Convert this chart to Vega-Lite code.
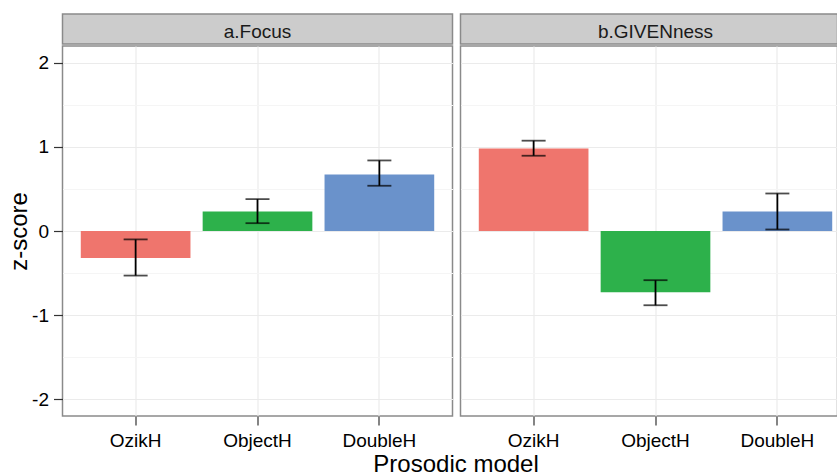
{
  "$schema": "https://vega.github.io/schema/vega-lite/v6.json",
  "background": "white",
  "padding": {"left": 6.5, "top": 13, "right": 0, "bottom": 0},
  "config": {
    "font": "Liberation Sans",
    "axis": {"labelFont": "Liberation Sans", "titleFont": "Liberation Sans"}
  },
  "title": {"text": "Prosodic model", "orient": "bottom", "anchor": "middle", "fontSize": 24, "fontWeight": "normal", "color": "#000000", "font": "Liberation Sans", "offset": 2, "dx": 27},
  "datasets": {
    "bars": [
      {"panel": "a.Focus", "model": "OzikH", "z": -0.32, "lo": -0.53, "hi": -0.10},
      {"panel": "a.Focus", "model": "ObjectH", "z": 0.232, "lo": 0.093, "hi": 0.379},
      {"panel": "a.Focus", "model": "DoubleH", "z": 0.673, "lo": 0.538, "hi": 0.839},
      {"panel": "b.GIVENness", "model": "OzikH", "z": 0.982, "lo": 0.895, "hi": 1.074},
      {"panel": "b.GIVENness", "model": "ObjectH", "z": -0.728, "lo": -0.883, "hi": -0.585},
      {"panel": "b.GIVENness", "model": "DoubleH", "z": 0.232, "lo": 0.018, "hi": 0.446}
    ],
    "strips": [{"panel": "a.Focus"}, {"panel": "b.GIVENness"}]
  },
  "spacing": 6,
  "hconcat": [
    {
      "spacing": 0,
      "vconcat": [
        {
          "width": 390,
          "height": 30,
          "view": {"fill": "#CCCCCC", "stroke": "#8A8A8A", "strokeWidth": 1.5},
          "data": {"name": "strips"},
          "transform": [{"filter": "datum.panel === 'a.Focus'"}],
          "mark": {"type": "text", "fontSize": 19, "color": "#1A1A1A", "baseline": "middle", "dy": 3},
          "encoding": {
            "text": {"field": "panel"},
            "x": {"field": "panel", "type": "nominal", "scale": {"type": "point", "range": [0, 390]}, "axis": null}
          }
        },
        {
          "width": 390,
          "height": 370,
          "view": {"fill": "white", "stroke": "#8A8A8A", "strokeWidth": 1.5},
          "data": {"name": "bars"},
          "transform": [{"filter": "datum.panel === 'a.Focus'"}],
          "encoding": {
            "x": {
              "field": "model", "type": "nominal",
              "sort": ["OzikH", "ObjectH", "DoubleH"],
              "scale": {"type": "band", "paddingInner": 0.1, "paddingOuter": 0.15, "range": [0, 390]},
              "axis": {
                "labelAngle": 0, "labelFontSize": 19, "labelColor": "#000000", "labelPadding": 6,
                "domain": false, "tickSize": 9, "tickColor": "#333333", "tickWidth": 1.2,
                "grid": true, "gridColor": "#EBEBEB", "gridWidth": 1.2,
                "title": null
              }
            }
          },
          "layer": [
            {
              "mark": {"type": "bar"},
              "encoding": {
                "y": {
                  "field": "z", "type": "quantitative",
                  "scale": {"domain": [-2.2, 2.2], "nice": false, "zero": false},
                  "axis": {
                    "values": [-2, -1, 0, 1, 2], "labelFontSize": 19, "labelColor": "#000000", "labelPadding": 5,
                    "labelExpr": "datum.value < 0 ? '-' + abs(datum.value) : '' + datum.value",
                    "domain": false, "tickSize": 9, "tickColor": "#333333", "tickWidth": 1.2,
                    "grid": true, "gridColor": "#EBEBEB", "gridWidth": 1.2,
                    "title": "z-score", "titleFontSize": 24, "titleFontWeight": "normal", "titleColor": "#000000", "titlePadding": 0
                  }
                },
                "color": {
                  "field": "model", "type": "nominal",
                  "scale": {"domain": ["OzikH", "ObjectH", "DoubleH"], "range": ["#EF756D", "#2DB14B", "#6A92CB"]},
                  "legend": null
                }
              }
            },
            {
              "mark": {"type": "rule", "color": "#000000", "strokeWidth": 1.8},
              "encoding": {
                "y": {
                  "field": "lo", "type": "quantitative",
                  "axis": {"orient": "left", "values": [-1.5, -0.5, 0.5, 1.5], "labels": false, "ticks": false, "domain": false, "title": null, "grid": true, "gridColor": "#F5F5F5", "gridWidth": 1.2}
                },
                "y2": {"field": "hi"}
              }
            },
            {
              "mark": {"type": "tick", "color": "#000000", "size": 24, "thickness": 1.8},
              "encoding": {"y": {"field": "lo", "type": "quantitative", "axis": null}}
            },
            {
              "mark": {"type": "tick", "color": "#000000", "size": 24, "thickness": 1.8},
              "encoding": {"y": {"field": "hi", "type": "quantitative", "axis": null}}
            }
          ],
          "resolve": {"axis": {"y": "independent"}}
        }
      ]
    },
    {
      "spacing": 0,
      "vconcat": [
        {
          "width": 377,
          "height": 30,
          "view": {"fill": "#CCCCCC", "stroke": "#8A8A8A", "strokeWidth": 1.5},
          "data": {"name": "strips"},
          "transform": [{"filter": "datum.panel === 'b.GIVENness'"}],
          "mark": {"type": "text", "fontSize": 19, "color": "#1A1A1A", "baseline": "middle", "dy": 3},
          "encoding": {
            "text": {"field": "panel"},
            "x": {"field": "panel", "type": "nominal", "scale": {"type": "point", "range": [0, 390]}, "axis": null}
          }
        },
        {
          "width": 377,
          "height": 370,
          "view": {"fill": "white", "stroke": "#8A8A8A", "strokeWidth": 1.5},
          "data": {"name": "bars"},
          "transform": [{"filter": "datum.panel === 'b.GIVENness'"}],
          "encoding": {
            "x": {
              "field": "model", "type": "nominal",
              "sort": ["OzikH", "ObjectH", "DoubleH"],
              "scale": {"type": "band", "paddingInner": 0.1, "paddingOuter": 0.15, "range": [0, 390]},
              "axis": {
                "labelAngle": 0, "labelFontSize": 19, "labelColor": "#000000", "labelPadding": 6,
                "domain": false, "tickSize": 9, "tickColor": "#333333", "tickWidth": 1.2,
                "grid": true, "gridColor": "#EBEBEB", "gridWidth": 1.2,
                "title": null
              }
            }
          },
          "layer": [
            {
              "mark": {"type": "bar"},
              "encoding": {
                "y": {
                  "field": "z", "type": "quantitative",
                  "scale": {"domain": [-2.2, 2.2], "nice": false, "zero": false},
                  "axis": {
                    "values": [-2, -1, 0, 1, 2], "labels": false, "ticks": false, "domain": false,
                    "grid": true, "gridColor": "#EBEBEB", "gridWidth": 1.2, "title": null
                  }
                },
                "color": {
                  "field": "model", "type": "nominal",
                  "scale": {"domain": ["OzikH", "ObjectH", "DoubleH"], "range": ["#EF756D", "#2DB14B", "#6A92CB"]},
                  "legend": null
                }
              }
            },
            {
              "mark": {"type": "rule", "color": "#000000", "strokeWidth": 1.8},
              "encoding": {
                "y": {
                  "field": "lo", "type": "quantitative",
                  "axis": {"orient": "left", "values": [-1.5, -0.5, 0.5, 1.5], "labels": false, "ticks": false, "domain": false, "title": null, "grid": true, "gridColor": "#F5F5F5", "gridWidth": 1.2}
                },
                "y2": {"field": "hi"}
              }
            },
            {
              "mark": {"type": "tick", "color": "#000000", "size": 24, "thickness": 1.8},
              "encoding": {"y": {"field": "lo", "type": "quantitative", "axis": null}}
            },
            {
              "mark": {"type": "tick", "color": "#000000", "size": 24, "thickness": 1.8},
              "encoding": {"y": {"field": "hi", "type": "quantitative", "axis": null}}
            }
          ],
          "resolve": {"axis": {"y": "independent"}}
        }
      ]
    }
  ]
}
